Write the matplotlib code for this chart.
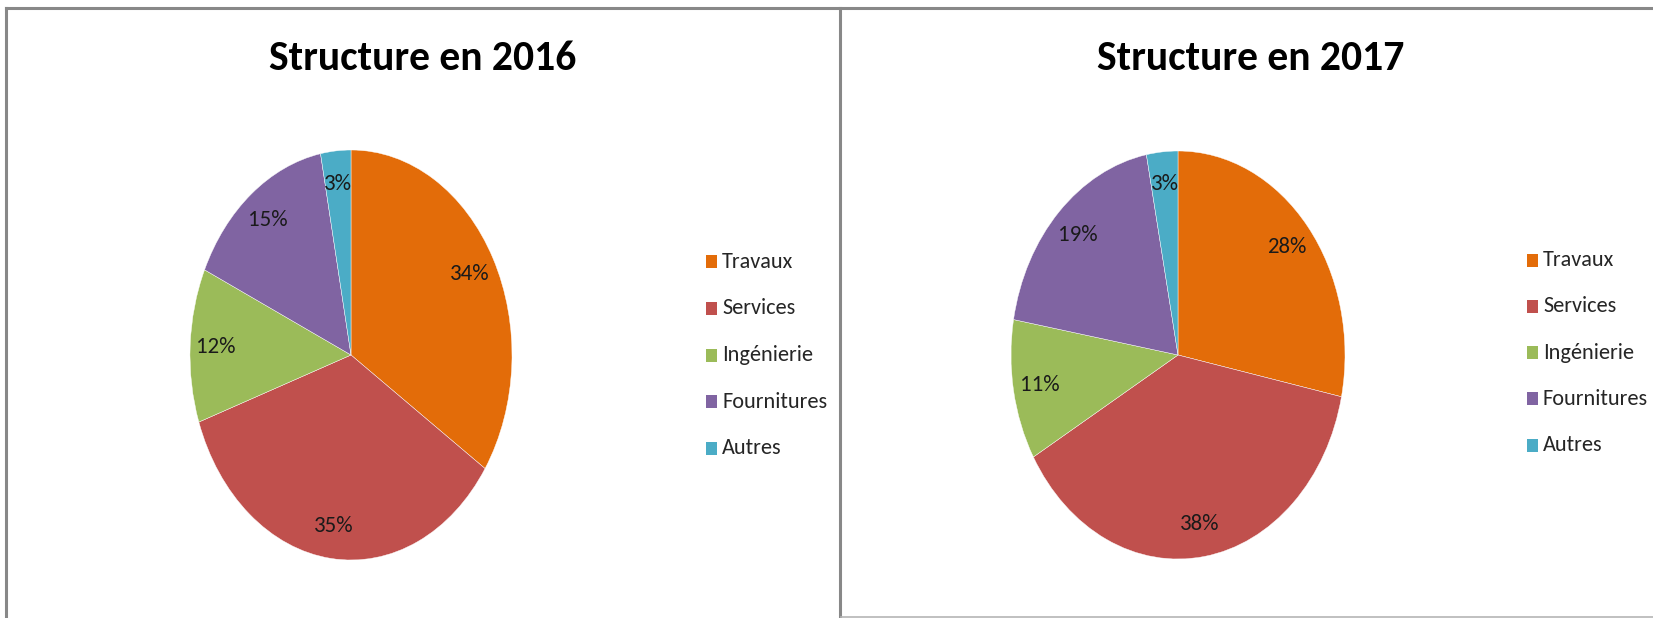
import matplotlib
matplotlib.use("Agg")
import matplotlib.pyplot as plt
from matplotlib.lines import Line2D
from matplotlib.patches import Rectangle

categories = ["Travaux", "Services", "Ingénierie", "Fournitures", "Autres"]
values_2016 = [34, 35, 12, 15, 3]
values_2017 = [28, 38, 11, 19, 3]
titles = ["Structure en 2016", "Structure en 2017"]
colors = ["#E36C09", "#C0504D", "#9BBB59", "#8064A2", "#4BACC6"]

W, H = 1653, 618
FONT = ["Carlito", "DejaVu Sans"]
plt.rcParams["font.family"] = FONT

fig = plt.figure(figsize=(W / 100, H / 100), dpi=100)
fig.patch.set_facecolor("white")


def fx(px):
    return px / W


def fy(py):
    return 1 - py / H


def pie_axes(cx, cy, rx, ry):
    return fig.add_axes([fx(cx - rx), fy(cy + ry), 2 * rx / W, 2 * ry / H])


panels = [
    dict(values=values_2016, title=titles[0], cx=351, cy=355, rx=161, ry=205,
         tx=423, ty=58, lx=706, ly0=262, dly=46.5),
    dict(values=values_2017, title=titles[1], cx=1178, cy=355, rx=167, ry=204,
         tx=1251, ty=58, lx=1527, ly0=260, dly=46.3),
]

for p in panels:
    ax = pie_axes(p["cx"], p["cy"], p["rx"], p["ry"])
    wedges, texts, autotexts = ax.pie(
        p["values"], colors=colors, startangle=90, counterclock=False,
        autopct=lambda v: f"{v:.0f}%", pctdistance=0.84,
        wedgeprops=dict(linewidth=0.3, edgecolor="white"),
        textprops=dict(fontsize=16.5, color="#1a1a1a"), radius=1.0)
    ax.set_aspect("auto")
    ax.set_xlim(-1, 1)
    ax.set_ylim(-1, 1)
    ax.axis("off")

    fig.text(fx(p["tx"]), fy(p["ty"]), p["title"], ha="center", va="center",
             fontsize=30, fontweight="bold", color="black")

    for i, (cat, col) in enumerate(zip(categories, colors)):
        y = p["ly0"] + i * p["dly"]
        sw, sh = 11, 13
        fig.add_artist(Rectangle((fx(p["lx"]), fy(y + sh / 2)), sw / W, sh / H,
                                 transform=fig.transFigure, facecolor=col,
                                 edgecolor="none"))
        fig.text(fx(p["lx"] + 16), fy(y), cat, ha="left", va="center",
                 fontsize=16, color="#262626")

# panel borders
border = "#888888"
lines = [
    ((5.5, 5.5), (8, H)),          # left panel left side
    ((5.5, W), (8, 8)),            # top
    ((839.5, 839.5), (8, 617)),    # shared divider
]
for xs, ys in lines:
    fig.add_artist(Line2D([fx(x) for x in xs], [fy(y) for y in ys],
                          transform=fig.transFigure, color=border, linewidth=2.2))
fig.add_artist(Line2D([fx(841), fx(W)], [fy(616.5), fy(616.5)],
                      transform=fig.transFigure, color="#b5b5b5", linewidth=1.2))

fig.savefig("out.png", dpi=100, facecolor="white")
